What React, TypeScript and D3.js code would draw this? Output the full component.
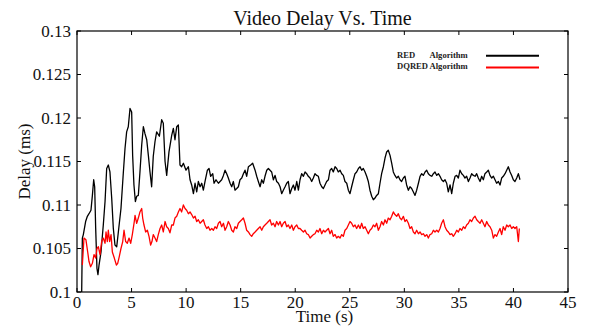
import * as d3 from 'd3';

// [time (s), delay]
const redAlgorithm: [number, number][] = [
  [0.43, 0.1], [0.49, 0.1062], [0.58, 0.1066], [0.79, 0.1081], [0.95, 0.1087], [1.1, 0.109], [1.28, 0.1094],
  [1.41, 0.1111], [1.53, 0.1129], [1.62, 0.1121], [1.71, 0.1074], [1.83, 0.1027], [1.92, 0.102], [2.02, 0.1031],
  [2.2, 0.1046], [2.41, 0.1077], [2.57, 0.1104], [2.72, 0.1142], [2.87, 0.1146], [3.02, 0.1138], [3.18, 0.1108],
  [3.33, 0.1073], [3.48, 0.1054], [3.64, 0.1052], [3.79, 0.1069], [4.03, 0.1096], [4.25, 0.1138], [4.4, 0.1165],
  [4.55, 0.1184], [4.7, 0.119], [4.86, 0.1211], [5.01, 0.1207], [5.1, 0.1157], [5.22, 0.1123], [5.35, 0.1104],
  [5.47, 0.111], [5.62, 0.1111], [5.77, 0.1138], [5.93, 0.1169], [6.08, 0.119], [6.23, 0.1182], [6.39, 0.1175],
  [6.54, 0.1157], [6.69, 0.1138], [6.84, 0.1121], [6.99, 0.1156], [7.15, 0.1173], [7.3, 0.1184], [7.55, 0.1179],
  [7.76, 0.1198], [7.91, 0.1194], [8.07, 0.115], [8.22, 0.1134], [8.43, 0.1161], [8.68, 0.118], [8.83, 0.1188],
  [8.98, 0.1175], [9.14, 0.119], [9.29, 0.1192], [9.44, 0.1146], [9.59, 0.1144], [9.75, 0.1148], [9.99, 0.114],
  [10.21, 0.1144], [10.36, 0.1129], [10.51, 0.1123], [10.67, 0.1113], [10.82, 0.1125], [10.97, 0.1115],
  [11.12, 0.1127], [11.28, 0.1121], [11.43, 0.1125], [11.58, 0.1117], [11.73, 0.1127], [11.95, 0.114],
  [12.1, 0.1142], [12.25, 0.1133], [12.44, 0.1136], [12.56, 0.1125], [12.74, 0.1129], [12.96, 0.1125],
  [13.11, 0.1127], [13.26, 0.1129], [13.42, 0.1134], [13.57, 0.114], [13.72, 0.1136], [13.87, 0.1131],
  [14.03, 0.1125], [14.18, 0.1121], [14.33, 0.1127], [14.48, 0.1117], [14.64, 0.1119], [14.79, 0.1121],
  [14.94, 0.1129], [15.1, 0.1131], [15.25, 0.1136], [15.4, 0.114], [15.55, 0.1133], [15.71, 0.1144],
  [15.92, 0.1146], [16.1, 0.1148], [16.32, 0.114], [16.47, 0.1133], [16.62, 0.1127], [16.78, 0.1121],
  [16.93, 0.1129], [17.08, 0.1125], [17.23, 0.1133], [17.39, 0.114], [17.54, 0.1142], [17.69, 0.114],
  [17.84, 0.1138], [18.0, 0.1129], [18.15, 0.1134], [18.3, 0.1127], [18.46, 0.1125], [18.61, 0.1121],
  [18.76, 0.1113], [18.91, 0.1117], [19.07, 0.1121], [19.22, 0.1125], [19.37, 0.1127], [19.52, 0.1113],
  [19.68, 0.1119], [19.83, 0.1123], [19.98, 0.1117], [20.14, 0.1127], [20.29, 0.1117], [20.44, 0.1129],
  [20.59, 0.1136], [20.75, 0.1133], [20.9, 0.1138], [21.05, 0.1136], [21.2, 0.1133], [21.36, 0.1131],
  [21.51, 0.1127], [21.66, 0.1131], [21.81, 0.1136], [21.97, 0.1134], [22.12, 0.1133], [22.27, 0.1125],
  [22.43, 0.1121], [22.58, 0.1119], [22.73, 0.1123], [22.88, 0.1127], [23.04, 0.1129], [23.19, 0.114],
  [23.34, 0.1142], [23.49, 0.1138], [23.65, 0.1144], [23.8, 0.1142], [23.95, 0.1138], [24.11, 0.114],
  [24.26, 0.1136], [24.41, 0.1134], [24.56, 0.1127], [24.72, 0.1125], [24.87, 0.1117], [25.02, 0.1113],
  [25.17, 0.1121], [25.33, 0.1129], [25.48, 0.1136], [25.63, 0.1138], [25.79, 0.1142], [25.94, 0.1144],
  [26.09, 0.114], [26.24, 0.1142], [26.4, 0.1138], [26.55, 0.1133], [26.7, 0.1127], [26.85, 0.1117],
  [27.01, 0.111], [27.16, 0.1106], [27.31, 0.1108], [27.46, 0.1111], [27.62, 0.1113], [27.77, 0.1125],
  [27.92, 0.1136], [28.08, 0.1144], [28.23, 0.1154], [28.38, 0.1161], [28.53, 0.1163], [28.69, 0.1157],
  [28.84, 0.1148], [28.99, 0.1138], [29.14, 0.1134], [29.3, 0.1131], [29.45, 0.1133], [29.6, 0.1129],
  [29.75, 0.1127], [29.91, 0.1131], [30.06, 0.1133], [30.21, 0.1123], [30.37, 0.1117], [30.52, 0.1121],
  [30.67, 0.1119], [30.83, 0.1115], [30.98, 0.1111], [31.13, 0.1117], [31.29, 0.1125], [31.44, 0.1133],
  [31.59, 0.1136], [31.74, 0.1134], [31.9, 0.1138], [32.05, 0.114], [32.2, 0.1136], [32.35, 0.1134],
  [32.51, 0.1133], [32.66, 0.1136], [32.81, 0.1138], [32.97, 0.1134], [33.12, 0.1136], [33.27, 0.1133],
  [33.42, 0.1129], [33.58, 0.1127], [33.73, 0.1129], [33.88, 0.1125], [34.03, 0.1115], [34.19, 0.1123],
  [34.34, 0.1113], [34.49, 0.1125], [34.65, 0.1133], [34.8, 0.1134], [34.95, 0.1131], [35.1, 0.114],
  [35.26, 0.1136], [35.41, 0.1134], [35.56, 0.1131], [35.71, 0.1133], [35.87, 0.1127], [36.02, 0.1131],
  [36.17, 0.1136], [36.33, 0.1134], [36.48, 0.1133], [36.63, 0.1136], [36.78, 0.1131], [36.94, 0.1127],
  [37.09, 0.1133], [37.24, 0.1129], [37.39, 0.1136], [37.55, 0.1138], [37.7, 0.114], [37.85, 0.1134],
  [38.01, 0.1131], [38.16, 0.1133], [38.31, 0.1129], [38.46, 0.1125], [38.62, 0.1127], [38.77, 0.1123],
  [38.92, 0.1131], [39.07, 0.1133], [39.23, 0.1136], [39.38, 0.114], [39.53, 0.1144], [39.69, 0.1138],
  [39.84, 0.1134], [39.99, 0.1129], [40.14, 0.1127], [40.3, 0.1131], [40.45, 0.1136], [40.6, 0.1129],
];

const dqredAlgorithm: [number, number][] = [
  [0.49, 0.1031], [0.64, 0.1062], [0.82, 0.106], [0.98, 0.1046], [1.1, 0.1035], [1.25, 0.1029], [1.41, 0.1033],
  [1.56, 0.1043], [1.71, 0.1039], [1.83, 0.105], [1.96, 0.1052], [2.11, 0.1043], [2.26, 0.1058], [2.41, 0.1062],
  [2.57, 0.1056], [2.66, 0.1069], [2.78, 0.1058], [2.87, 0.1071], [2.99, 0.1058], [3.12, 0.1066], [3.24, 0.1046],
  [3.42, 0.1039], [3.61, 0.1031], [3.73, 0.1033], [3.88, 0.1041], [4.03, 0.105], [4.19, 0.1058], [4.31, 0.1071],
  [4.46, 0.1058], [4.61, 0.1056], [4.77, 0.1062], [4.92, 0.1056], [5.07, 0.1066], [5.25, 0.1081], [5.32, 0.1088],
  [5.47, 0.1079], [5.62, 0.1085], [5.77, 0.1092], [5.93, 0.1096], [6.02, 0.1085], [6.14, 0.1077], [6.29, 0.1069],
  [6.45, 0.1071], [6.6, 0.1064], [6.75, 0.1054], [6.87, 0.1058], [6.99, 0.1066], [7.15, 0.1062], [7.3, 0.1058],
  [7.45, 0.1066], [7.61, 0.1073], [7.76, 0.1077], [7.91, 0.1069], [8.07, 0.1081], [8.22, 0.1075], [8.37, 0.1073],
  [8.52, 0.1068], [8.68, 0.1077], [8.83, 0.1077], [8.98, 0.1085], [9.14, 0.1087], [9.29, 0.1092], [9.44, 0.1096],
  [9.59, 0.1092], [9.75, 0.11], [9.9, 0.1096], [10.05, 0.1094], [10.21, 0.109], [10.36, 0.1092], [10.51, 0.1089],
  [10.67, 0.1085], [10.82, 0.1087], [10.97, 0.1081], [11.12, 0.1083], [11.28, 0.1079], [11.43, 0.1081],
  [11.58, 0.1083], [11.73, 0.1077], [11.89, 0.1073], [12.04, 0.1075], [12.19, 0.1071], [12.35, 0.1073],
  [12.5, 0.1071], [12.65, 0.1075], [12.8, 0.1073], [12.96, 0.1079], [13.11, 0.1081], [13.26, 0.1075],
  [13.42, 0.1079], [13.57, 0.1071], [13.72, 0.1075], [13.87, 0.1081], [14.03, 0.1077], [14.18, 0.1071],
  [14.33, 0.1069], [14.48, 0.1075], [14.64, 0.1073], [14.79, 0.1079], [14.94, 0.1081], [15.1, 0.1083],
  [15.25, 0.1085], [15.4, 0.1079], [15.55, 0.1071], [15.71, 0.1069], [15.86, 0.1066], [16.01, 0.1064],
  [16.16, 0.1067], [16.32, 0.1069], [16.47, 0.1071], [16.62, 0.1073], [16.78, 0.1075], [16.93, 0.1071],
  [17.08, 0.1075], [17.23, 0.1077], [17.39, 0.1079], [17.54, 0.1081], [17.69, 0.1083], [17.84, 0.1077],
  [18.0, 0.1079], [18.15, 0.1075], [18.3, 0.1081], [18.46, 0.1077], [18.61, 0.1081], [18.76, 0.1075],
  [18.91, 0.1079], [19.07, 0.1081], [19.22, 0.1075], [19.37, 0.1077], [19.52, 0.1073], [19.68, 0.1077],
  [19.83, 0.1071], [19.98, 0.1075], [20.14, 0.1077], [20.29, 0.1073], [20.44, 0.1073], [20.59, 0.1071],
  [20.75, 0.1069], [20.9, 0.1071], [21.05, 0.1067], [21.2, 0.1066], [21.36, 0.1062], [21.51, 0.1064],
  [21.66, 0.1066], [21.81, 0.1067], [21.97, 0.1071], [22.12, 0.1069], [22.27, 0.1073], [22.43, 0.1067],
  [22.58, 0.1071], [22.73, 0.1069], [22.88, 0.1071], [23.04, 0.1073], [23.19, 0.1067], [23.34, 0.1071],
  [23.49, 0.1064], [23.65, 0.1066], [23.8, 0.1062], [23.95, 0.1064], [24.11, 0.1062], [24.26, 0.1066],
  [24.41, 0.1064], [24.56, 0.1071], [24.72, 0.1073], [24.87, 0.1077], [25.02, 0.1081], [25.17, 0.1079],
  [25.33, 0.1075], [25.48, 0.1077], [25.63, 0.1073], [25.79, 0.1077], [25.94, 0.1073], [26.09, 0.1079],
  [26.24, 0.1073], [26.4, 0.1075], [26.55, 0.1071], [26.7, 0.1067], [26.85, 0.1071], [27.01, 0.1073],
  [27.16, 0.1077], [27.31, 0.1075], [27.46, 0.1079], [27.62, 0.1071], [27.77, 0.1075], [27.92, 0.1081],
  [28.08, 0.1077], [28.23, 0.1083], [28.38, 0.1079], [28.53, 0.1085], [28.69, 0.1083], [28.84, 0.1087],
  [28.99, 0.1092], [29.14, 0.1089], [29.3, 0.1087], [29.45, 0.109], [29.6, 0.1085], [29.75, 0.1083],
  [29.91, 0.1087], [30.06, 0.1081], [30.21, 0.1083], [30.37, 0.1079], [30.52, 0.1073], [30.67, 0.1075],
  [30.83, 0.1069], [30.98, 0.1067], [31.13, 0.1071], [31.29, 0.1067], [31.44, 0.1069], [31.59, 0.1066],
  [31.74, 0.1067], [31.9, 0.1064], [32.05, 0.1066], [32.2, 0.1062], [32.35, 0.1066], [32.51, 0.1067],
  [32.66, 0.1071], [32.81, 0.1069], [32.97, 0.1071], [33.12, 0.1069], [33.27, 0.1073], [33.42, 0.1079],
  [33.58, 0.1083], [33.73, 0.1075], [33.88, 0.1071], [34.03, 0.1069], [34.19, 0.1066], [34.34, 0.1067],
  [34.49, 0.1064], [34.65, 0.1067], [34.8, 0.1071], [34.95, 0.1069], [35.1, 0.1073], [35.26, 0.1071],
  [35.41, 0.1075], [35.56, 0.1073], [35.71, 0.1077], [35.87, 0.1079], [36.02, 0.1083], [36.17, 0.1081],
  [36.33, 0.1085], [36.48, 0.1087], [36.63, 0.1083], [36.78, 0.1081], [36.94, 0.1079], [37.09, 0.1083],
  [37.24, 0.1079], [37.39, 0.1075], [37.55, 0.1081], [37.7, 0.1077], [37.85, 0.1075], [38.01, 0.1071],
  [38.16, 0.1062], [38.31, 0.1066], [38.46, 0.1064], [38.62, 0.1069], [38.77, 0.1073], [38.92, 0.1066],
  [39.07, 0.1075], [39.23, 0.1071], [39.38, 0.1077], [39.53, 0.1075], [39.69, 0.1077], [39.84, 0.1073],
  [39.99, 0.1075], [40.14, 0.1073], [40.3, 0.1075], [40.45, 0.1058], [40.54, 0.1073],
];

const xTicks = [0, 5, 10, 15, 20, 25, 30, 35, 40, 45];
const yTicks = [0.1, 0.105, 0.11, 0.115, 0.12, 0.125, 0.13];
const legendNames = [['RED', 'Algorithm'], ['DQRED', 'Algorithm']];
const seriesColors = ['#000000', '#ff0000'];

const W = 589;
const H = 326;
const margin = { top: 31, right: 21, bottom: 34, left: 77 };
const FONT = '"Liberation Serif", "Times New Roman", serif';

export default function App() {
  const iw = W - margin.left - margin.right;
  const ih = H - margin.top - margin.bottom;
  const x = d3.scaleLinear().domain([0, 45]).range([0, iw]);
  const y = d3.scaleLinear().domain([0.1, 0.13]).range([ih, 0]);

  const line = d3
    .line<[number, number]>()
    .x((d) => x(d[0]))
    .y((d) => y(d[1]));

  const series = [redAlgorithm, dqredAlgorithm];
  const tick = 4;

  return (
    <div style={{ position: 'absolute', left: 0, top: 0 }}>
      <svg width={W} height={H} style={{ display: 'block', background: '#fff' }} fontFamily={FONT}>
        <text x={margin.left + iw / 2} y={25} textAnchor="middle" fontSize={20} fill="#111">
          Video Delay Vs. Time
        </text>

        <g transform={`translate(${margin.left},${margin.top})`}>
          <defs>
            <clipPath id="plot-clip">
              <rect x={0} y={0} width={iw} height={ih} />
            </clipPath>
          </defs>

          <g clipPath="url(#plot-clip)">
            {series.map((s, i) => (
              <path key={i} d={line(s) ?? ''} fill="none" stroke={seriesColors[i]} strokeWidth={1.3} strokeLinejoin="round" />
            ))}
          </g>

          {/* frame */}
          <rect x={0} y={0} width={iw} height={ih} fill="none" stroke="#000" strokeWidth={1.2} />

          {/* x ticks, bottom and top, pointing inward */}
          {xTicks.map((t) => (
            <g key={`x${t}`}>
              <line x1={x(t)} x2={x(t)} y1={ih} y2={ih - tick} stroke="#000" />
              <line x1={x(t)} x2={x(t)} y1={0} y2={tick} stroke="#000" />
              <text x={x(t)} y={ih + 16} textAnchor="middle" fontSize={17} fill="#111">
                {t}
              </text>
            </g>
          ))}

          {/* y ticks, left and right */}
          {yTicks.map((t) => (
            <g key={`y${t}`}>
              <line x1={0} x2={tick} y1={y(t)} y2={y(t)} stroke="#000" />
              <line x1={iw} x2={iw - tick} y1={y(t)} y2={y(t)} stroke="#000" />
              <text x={-6} y={y(t)} dy="0.33em" textAnchor="end" fontSize={17} fill="#111">
                {String(+t.toFixed(3))}
              </text>
            </g>
          ))}
        </g>

        <text x={margin.left + iw / 2 + 2} y={322} textAnchor="middle" fontSize={17} fill="#111">
          Time (s)
        </text>
        <text transform={`translate(30,${margin.top + ih / 2}) rotate(-90)`} textAnchor="middle" fontSize={17} fill="#111">
          Delay (ms)
        </text>

        {/* legend */}
        {legendNames.map((n, i) => (
          <g key={n[0]}>
            <text y={58 + i * 11} fontSize={8.6} fontWeight="bold" fill="#222">
              <tspan x={397}>{n[0]}</tspan>
              <tspan x={429.5}>{n[1]}</tspan>
            </text>
            <line x1={486} x2={539} y1={55.7 + i * 11.8} y2={55.7 + i * 11.8} stroke={seriesColors[i]} strokeWidth={2} />
          </g>
        ))}
      </svg>
    </div>
  );
}
